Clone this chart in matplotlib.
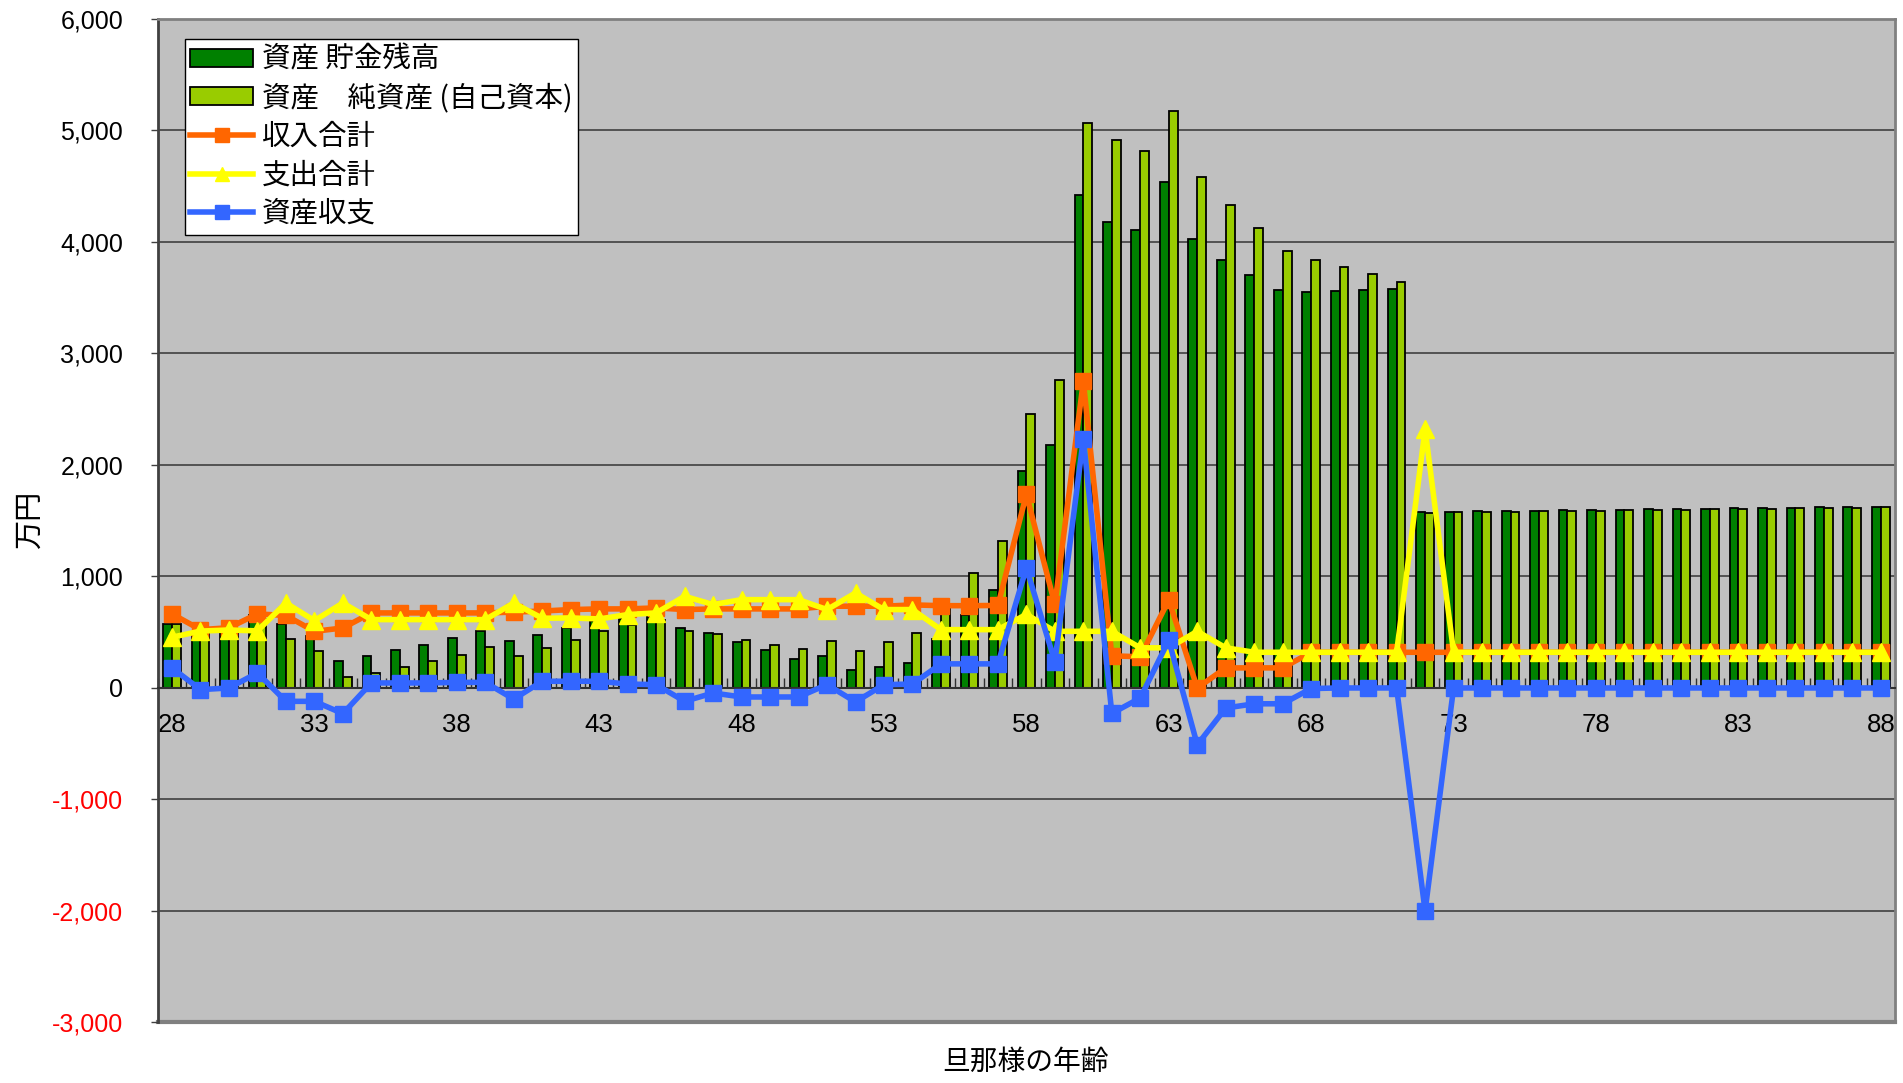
import matplotlib
matplotlib.use("Agg")
import matplotlib.pyplot as plt
from matplotlib.ticker import FuncFormatter, FixedLocator
import numpy as np

JP = ['Noto Sans CJK JP', 'DejaVu Sans']
plt.rcParams['font.family'] = ['Liberation Sans', 'Noto Sans CJK JP', 'DejaVu Sans']

ages = list(range(28, 89))

# 資産 貯金残高
savings = [574, 500, 510, 650, 577, 469, 239, 284, 338, 386,
           445, 508, 422, 478, 538, 598, 619, 637, 538, 493,
           413, 338, 263, 284, 158, 188, 222, 435, 655, 875,
           1949, 2182, 4419, 4183, 4103, 4539, 4023, 3839, 3703, 3567,
           3555, 3560, 3570, 3579, 1576, 1580, 1583, 1586, 1589, 1592,
           1595, 1598, 1601, 1604, 1607, 1610, 1613, 1616, 1619, 1621,
           1624]
# 資産 純資産(自己資本)
net_assets = [570, 500, 510, 620, 440, 335, 99, 135, 188, 239,
              299, 368, 290, 355, 434, 508, 562, 613, 514, 487,
              434, 389, 353, 419, 335, 413, 490, 740, 1035, 1320,
              2458, 2758, 5064, 4912, 4812, 5172, 4583, 4327, 4123, 3915,
              3835, 3775, 3714, 3645, 1570, 1575, 1578, 1581, 1584, 1587,
              1590, 1593, 1596, 1599, 1602, 1605, 1608, 1611, 1614, 1616,
              1619]
# 収入合計
income = [664, 523, 540, 664, 650, 508, 538, 673, 673, 673,
          673, 673, 680, 690, 703, 709, 709, 718, 703, 709,
          709, 709, 709, 733, 733, 733, 745, 738, 738, 740,
          1737, 749, 2750, 288, 280, 789, 0, 180, 180, 180,
          320, 320, 320, 320, 320, 320, 320, 320, 320, 320,
          320, 320, 320, 320, 320, 320, 320, 320, 320, 320,
          320]
# 支出合計
expense = [455, 510, 520, 512, 762, 604, 762, 613, 613, 613,
           613, 613, 762, 625, 628, 619, 658, 673, 822, 748,
           792, 792, 792, 703, 852, 703, 703, 523, 523, 523,
           660, 508, 508, 508, 360, 360, 508, 360, 320, 320,
           320, 320, 320, 320, 2320, 320, 320, 320, 320, 320,
           320, 320, 320, 320, 320, 320, 320, 320, 320, 320,
           320]
# 資産収支
balance = [180, -15, 0, 135, -120, -120, -230, 45, 45, 45,
           50, 50, -100, 60, 60, 60, 35, 30, -120, -45,
           -81, -81, -81, 30, -125, 30, 35, 216, 216, 216,
           1077, 235, 2235, -228, -90, 428, -510, -180, -142, -142,
           -5, 0, 0, 0, -2000, 0, 0, 0, 0, 0,
           0, 0, 0, 0, 0, 0, 0, 0, 0, 0,
           0]

x = np.arange(len(ages))

fig = plt.figure(figsize=(19.03, 10.83), dpi=100)
ax = fig.add_axes([0.0829, 0.0559, 0.9129, 0.9266])
ax.set_facecolor('#C0C0C0')

for y in range(-2000, 7000, 1000):
    ax.axhline(y, color='#404040', lw=1.2, zorder=1)

w = 0.31
b1 = ax.bar(x - w / 2, savings, w, color='#008000', edgecolor='black', lw=1.3,
            label='資産 貯金残高', zorder=2)
b2 = ax.bar(x + w / 2, net_assets, w, color='#99CC00', edgecolor='black', lw=1.3,
            label='資産\u3000純資産 (自己資本)', zorder=2)

l1, = ax.plot(x, income, color='#FF6600', lw=4, marker='s', ms=11.5, label='収入合計', zorder=4)
l2, = ax.plot(x, expense, color='#FFFF00', lw=4, marker='^', ms=12.5, label='支出合計', zorder=5)
l3, = ax.plot(x, balance, color='#3366FF', lw=4, marker='s', ms=11.5, label='資産収支', zorder=6)

ax.set_xlim(-0.5, len(ages) - 0.5)
ax.set_ylim(-3000, 6000)

# category axis crosses at zero
ax.spines['bottom'].set_position(('data', 0))
ax.spines['bottom'].set_color('#303030')
ax.spines['bottom'].set_linewidth(1.5)
ax.spines['bottom'].set_zorder(3)
ax.axhline(-3000, color='#808080', lw=3, zorder=1, clip_on=False)
ax.spines['top'].set_color('#808080')
ax.spines['top'].set_linewidth(2)
ax.spines['right'].set_color('#808080')
ax.spines['right'].set_linewidth(2)
ax.spines['left'].set_color('#404040')
ax.spines['left'].set_linewidth(2)

ax.xaxis.set_major_locator(FixedLocator(x[::5]))
ax.set_xticklabels([str(a) for a in ages[::5]], fontsize=18.5)
ax.xaxis.set_minor_locator(FixedLocator(np.arange(len(ages) + 1) - 0.5))
ax.tick_params(axis='x', which='major', length=0, pad=18)
ax.tick_params(axis='x', which='minor', direction='in', length=7, width=1, color='#303030')

ax.set_yticks(range(-3000, 7000, 1000))
ax.yaxis.set_major_formatter(FuncFormatter(lambda v, p: '{:,.0f}'.format(v)))
ax.tick_params(axis='y', labelsize=18, length=5, width=1, color='#404040', pad=20)
for lbl, v in zip(ax.get_yticklabels(), range(-3000, 7000, 1000)):
    if v < 0:
        lbl.set_color('red')

fig.text(0.0155, 0.52, '万円', rotation=90, va='center', ha='center', fontsize=21, family=JP)
fig.text(0.539, 0.019, '旦那様の年齢', va='center', ha='center', fontsize=20, family=JP)

leg = ax.legend([b1, b2, l1, l2, l3], [b1.get_label(), b2.get_label(), l1.get_label(),
                                        l2.get_label(), l3.get_label()],
                loc='upper left', bbox_to_anchor=(0.0155, 0.98), borderaxespad=0,
                fancybox=False, framealpha=1, edgecolor='black', handlelength=2.2,
                handleheight=0.6, labelspacing=0.3, handletextpad=0.3, borderpad=0.2,
                prop={'family': JP, 'size': 20.5})
leg.get_frame().set_linewidth(1)
leg.set_zorder(10)
for h in leg.legend_handles[2:]:
    h.set_markersize(10)

fig.savefig('out.png', dpi=100)
